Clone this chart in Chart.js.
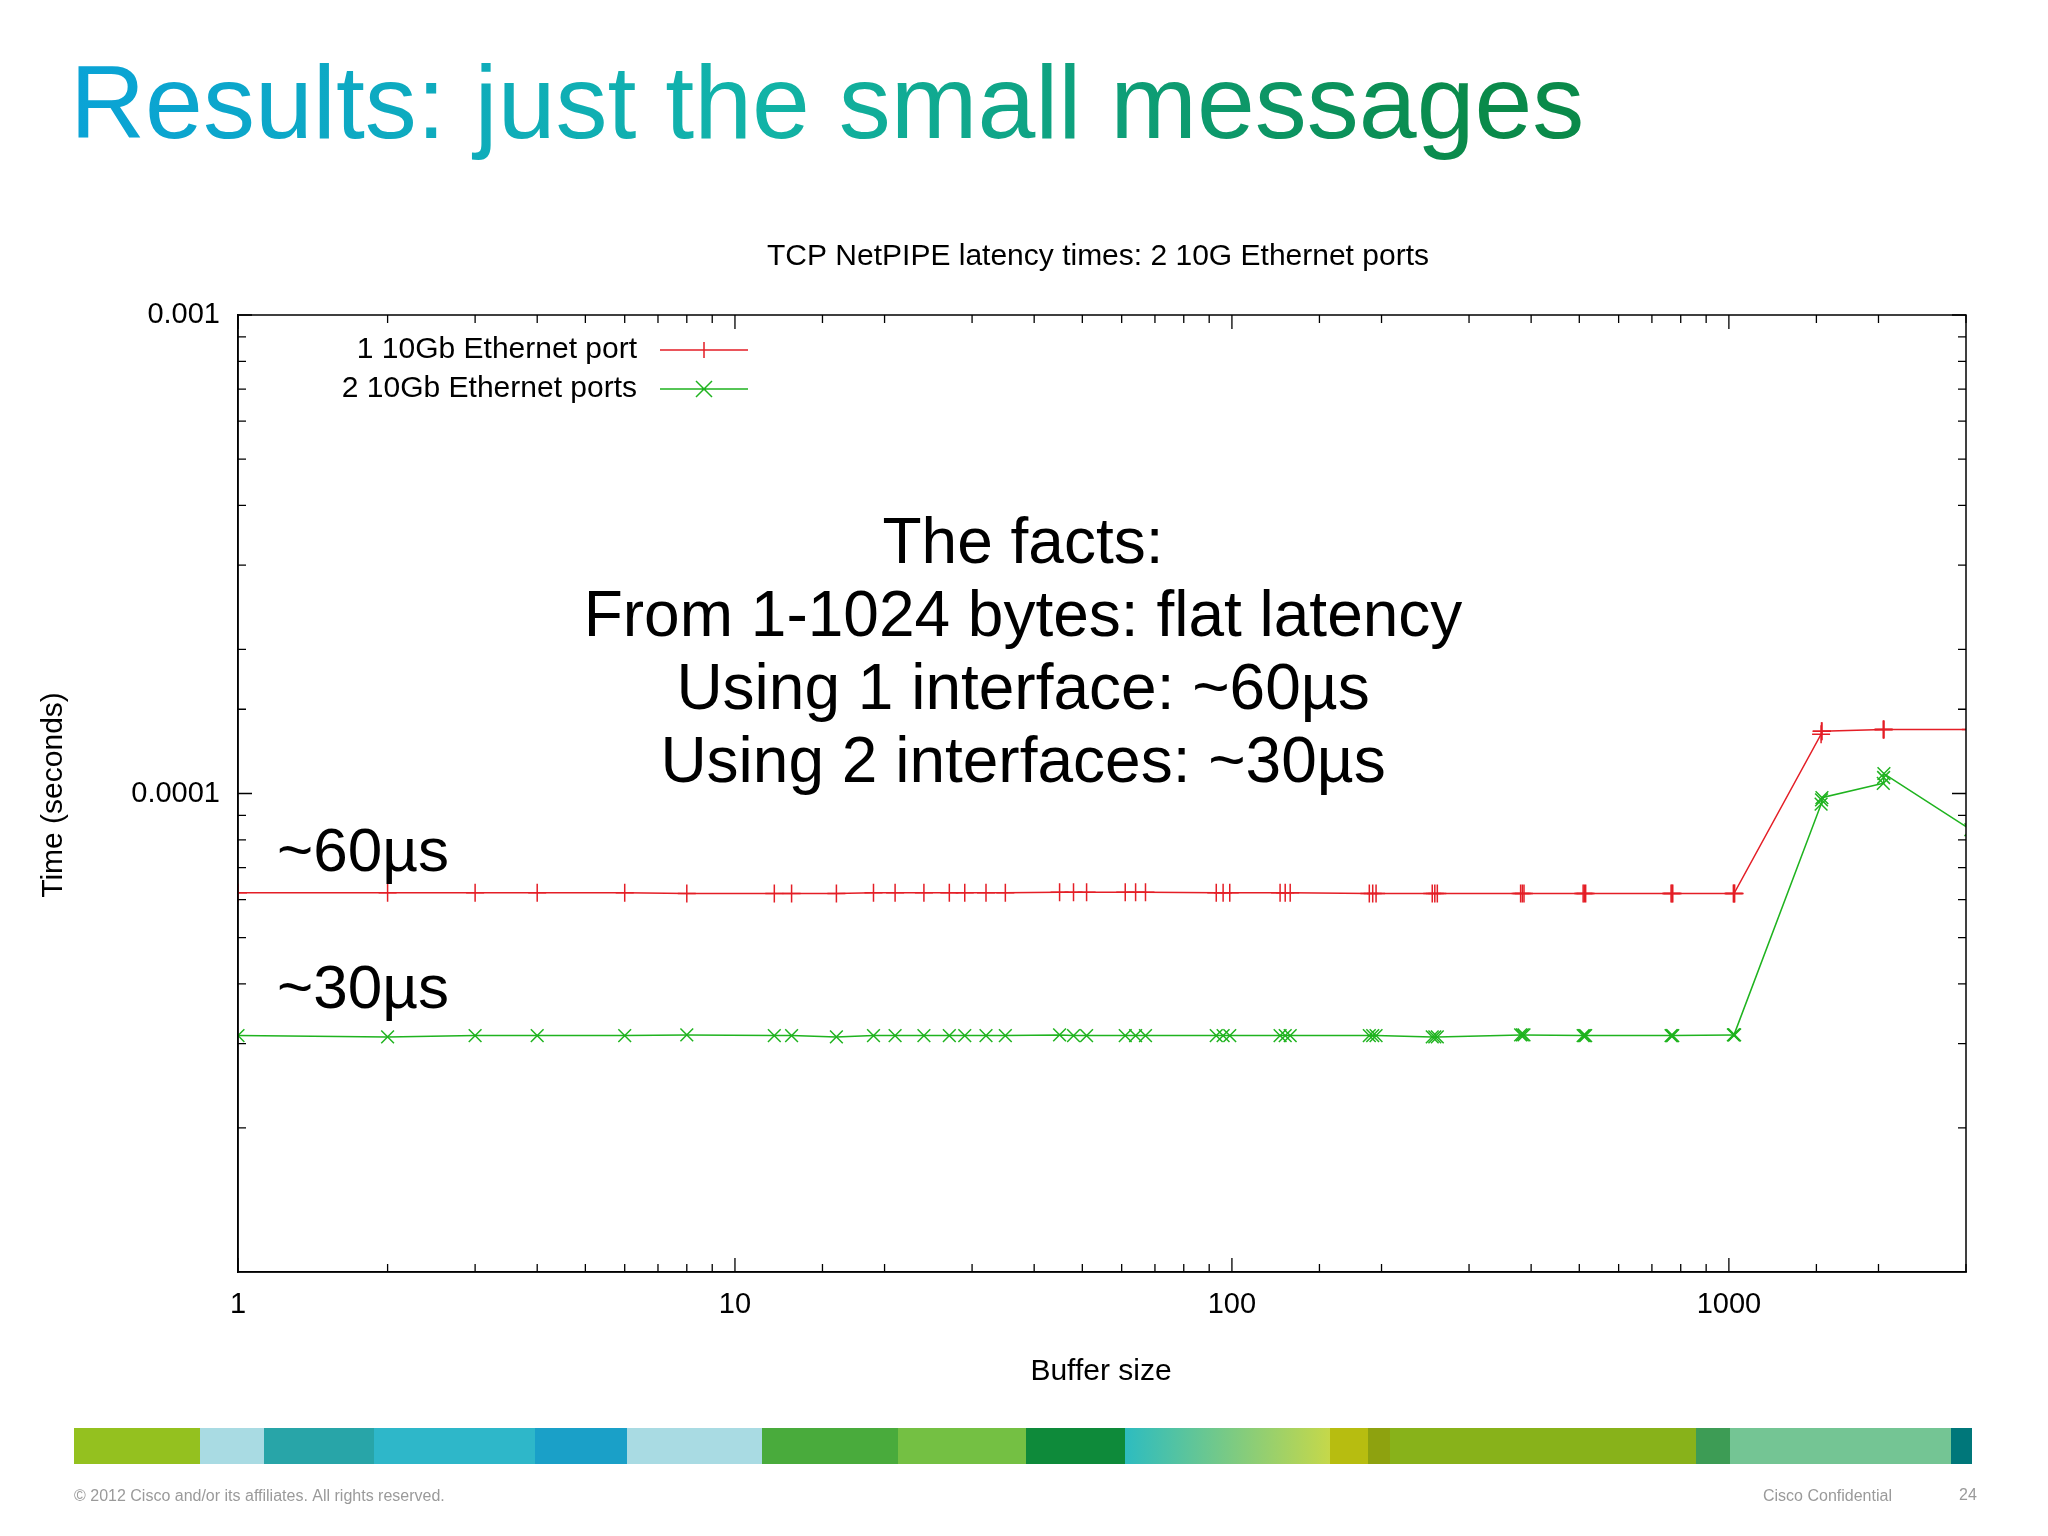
<!DOCTYPE html>
<html><head><meta charset="utf-8">
<script src="https://cdn.jsdelivr.net/npm/chart.js@4"></script>
<style>html,body{margin:0;padding:0;background:#fff;}canvas{display:block;}</style>
</head><body>
<canvas id="c" width="2048" height="1536"></canvas>
<script>
const bufferSizes = [1,2,3,4,6,8,12,13,16,19,21,24,27,29,32,35,45,48,51,61,64,67,93,96,99,125,128,131,189,192,195,253,256,259,381,384,387,509,512,515,765,768,771,1021,1024,1027,1533,1536,1539,2045,2048,2051,3069];
const onePort = [6.2e-5,6.2e-5,6.2e-5,6.2e-5,6.2e-5,6.18e-5,6.18e-5,6.18e-5,6.18e-5,6.2e-5,6.2e-5,6.2e-5,6.2e-5,6.2e-5,6.2e-5,6.2e-5,6.22e-5,6.22e-5,6.22e-5,6.22e-5,6.22e-5,6.22e-5,6.2e-5,6.2e-5,6.2e-5,6.2e-5,6.2e-5,6.2e-5,6.18e-5,6.18e-5,6.18e-5,6.18e-5,6.18e-5,6.18e-5,6.18e-5,6.18e-5,6.18e-5,6.18e-5,6.18e-5,6.18e-5,6.18e-5,6.18e-5,6.18e-5,6.18e-5,6.18e-5,6.18e-5,1.33e-4,1.35e-4,1.35e-4,1.36e-4,1.36e-4,1.36e-4,1.36e-4];
const twoPorts = [3.12e-5,3.1e-5,3.12e-5,3.12e-5,3.12e-5,3.13e-5,3.12e-5,3.12e-5,3.1e-5,3.12e-5,3.12e-5,3.12e-5,3.12e-5,3.12e-5,3.12e-5,3.12e-5,3.13e-5,3.12e-5,3.12e-5,3.12e-5,3.12e-5,3.12e-5,3.12e-5,3.12e-5,3.12e-5,3.12e-5,3.12e-5,3.12e-5,3.12e-5,3.12e-5,3.12e-5,3.1e-5,3.1e-5,3.1e-5,3.13e-5,3.13e-5,3.13e-5,3.12e-5,3.12e-5,3.12e-5,3.12e-5,3.12e-5,3.12e-5,3.13e-5,3.13e-5,3.13e-5,9.5e-5,9.7e-5,9.8e-5,1.05e-4,1.08e-4,1.1e-4,8.4e-5];
const xTickLabels = [1,10,100,1000];
const yTickLabels = [1e-5,1e-4,1e-3];
const yTickText = {"1e-05":"1e-05","0.0001":"0.0001","0.001":"0.001"};
const seriesNames = ["1 10Gb Ethernet port","2 10Gb Ethernet ports"];
const RED="#e41e26", GREEN="#1fb31f";
const FONT="'Liberation Sans', Arial, sans-serif";

const overlay = {
  id:'overlay',
  afterDraw(chart){
    const ctx=chart.ctx, xs=chart.scales.x, ys=chart.scales.y, a=chart.chartArea;
    ctx.save();
    // inner tick marks
    ctx.strokeStyle="#000"; ctx.lineWidth=1.3;
    xs.ticks.forEach(t=>{const p=xs.getPixelForValue(t.value); const L=xTickLabels.includes(t.value)?14:8;
      ctx.beginPath();ctx.moveTo(p,a.bottom);ctx.lineTo(p,a.bottom-L);ctx.moveTo(p,a.top);ctx.lineTo(p,a.top+L);ctx.stroke();});
    ys.ticks.forEach(t=>{const p=ys.getPixelForValue(t.value); const L=yTickLabels.includes(t.value)?14:8;
      ctx.beginPath();ctx.moveTo(a.left,p);ctx.lineTo(a.left+L,p);ctx.moveTo(a.right,p);ctx.lineTo(a.right-L,p);ctx.stroke();});
    // slide title
    const g=ctx.createLinearGradient(74,0,1470,0);
    g.addColorStop(0,"#0aa3d6");g.addColorStop(0.5,"#12b3a6");g.addColorStop(1,"#0a8a4a");
    ctx.fillStyle=g; ctx.font="104px "+FONT; ctx.textBaseline="alphabetic"; ctx.textAlign="left";
    ctx.fillText("Results: just the small messages",70,138);
    ctx.fillStyle="#000";
    ctx.font="30px "+FONT; ctx.textAlign="center";
    ctx.fillText("TCP NetPIPE latency times: 2 10G Ethernet ports",1098,265);
    ctx.fillText("Buffer size",1101,1380);
    ctx.save(); ctx.translate(62,795); ctx.rotate(-Math.PI/2); ctx.fillText("Time (seconds)",0,0); ctx.restore();
    // legend
    ctx.font="30px "+FONT; ctx.textAlign="right"; ctx.textBaseline="middle";
    [[RED,350,'cross'],[GREEN,389,'x']].forEach((l,i)=>{
      ctx.fillStyle="#000"; ctx.fillText(seriesNames[i],637,l[1]);
      ctx.strokeStyle=l[0]; ctx.lineWidth=1.5; ctx.beginPath(); ctx.moveTo(660,l[1]); ctx.lineTo(748,l[1]);
      if(l[2]==='cross'){ctx.moveTo(704,l[1]-8);ctx.lineTo(704,l[1]+8);} else {ctx.moveTo(696,l[1]-8);ctx.lineTo(712,l[1]+8);ctx.moveTo(712,l[1]-8);ctx.lineTo(696,l[1]+8);}
      ctx.stroke();});
    // annotation
    ctx.fillStyle="#000"; ctx.textAlign="center"; ctx.textBaseline="alphabetic"; ctx.font="64px "+FONT;
    ["The facts:","From 1-1024 bytes: flat latency","Using 1 interface: ~60µs","Using 2 interfaces: ~30µs"].forEach((s,i)=>ctx.fillText(s,1023,563+i*73));
    ctx.textAlign="left"; ctx.font="62px "+FONT;
    ctx.fillText("~60µs",277,871); ctx.fillText("~30µs",277,1008);
    // colour bar
    const bars=[[74,200,"#94c11f"],[200,264,"#a9dbe3"],[264,374,"#28a5a8"],[374,535,"#2eb7c9"],[535,627,"#1aa0c8"],[627,762,"#a9dbe3"],[762,898,"#49ab3c"],[898,1026,"#74c043"],[1026,1125,"#0e8a3a"],[1125,1330,null],[1330,1368,"#b7bd10"],[1368,1390,"#8ea20f"],[1390,1696,"#88b21a"],[1696,1730,"#3d9c55"],[1730,1951,"#74c594"],[1951,1972,"#00777a"]];
    bars.forEach(b=>{ if(b[2]) ctx.fillStyle=b[2]; else {const gg=ctx.createLinearGradient(b[0],0,b[1],0);gg.addColorStop(0,"#2dbcc0");gg.addColorStop(1,"#c5d84a");ctx.fillStyle=gg;} ctx.fillRect(b[0],1428,b[1]-b[0],36);});
    ctx.fillStyle="#9a9a9a"; ctx.font="16px "+FONT;
    ctx.fillText("© 2012 Cisco and/or its affiliates. All rights reserved.",74,1501);
    ctx.fillText("Cisco Confidential",1763,1501); ctx.fillText("24",1959,1500);
    ctx.restore();
  }
};

new Chart(document.getElementById('c'),{
  type:'line',
  data:{datasets:[
    {label:seriesNames[0],data:bufferSizes.map((x,i)=>({x,y:onePort[i]})),borderColor:RED,backgroundColor:RED,borderWidth:1.5,pointStyle:'cross',pointRadius:9,pointBorderWidth:1.5,tension:0},
    {label:seriesNames[1],data:bufferSizes.map((x,i)=>({x,y:twoPorts[i]})),borderColor:GREEN,backgroundColor:GREEN,borderWidth:1.5,pointStyle:'crossRot',pointRadius:9,pointBorderWidth:1.5,tension:0}
  ]},
  options:{
    responsive:false,animation:false,
    layout:{padding:{left:0,right:82,top:315,bottom:100}},
    plugins:{legend:{display:false},tooltip:{enabled:false}},
    scales:{
      x:{type:'logarithmic',min:1,max:3000,
        afterFit(s){s.height=164;},
        grid:{drawOnChartArea:false,drawTicks:false},
        border:{color:'#000',width:1.5},
        ticks:{autoSkip:false,maxRotation:0,padding:16,color:'#000',font:{size:29,family:FONT},
          callback:(v)=>xTickLabels.includes(v)?String(v):''}},
      y:{type:'logarithmic',min:1e-5,max:1e-3,
        afterFit(s){s.width=238;},
        grid:{drawOnChartArea:false,drawTicks:false},
        border:{color:'#000',width:1.5},
        ticks:{autoSkip:false,padding:18,color:'#000',font:{size:29,family:FONT},
          callback:(v)=>{for(const t of yTickLabels){if(Math.abs(v-t)/t<1e-6)return yTickText[String(t)];}return '';}}}
    }
  },
  plugins:[overlay,{id:'frame',afterDatasetsDraw(c){const a=c.chartArea,x=c.ctx;x.save();x.strokeStyle='#000';x.lineWidth=1.5;x.strokeRect(a.left,a.top,a.right-a.left,a.bottom-a.top);x.restore();}}]
});
</script>
</body></html>
